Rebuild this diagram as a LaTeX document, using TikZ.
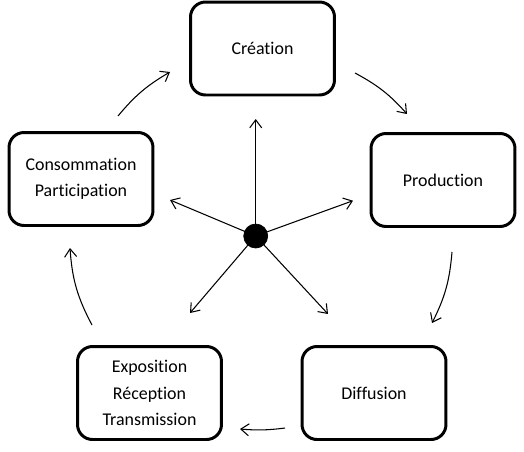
\documentclass[tikz,border=0pt]{standalone}
\usepackage{fontspec}
\setmainfont[Ligatures={NoCommon,NoContextual}]{Carlito}
\usetikzlibrary{arrows.meta}

\begin{document}
\begin{tikzpicture}[x=0.02cm,y=-0.02cm,
		box/.style={draw, line width=1.7pt, rounded corners=0.3cm, minimum width=2.88cm, minimum height=1.86cm, align=center, font=\fontsize{10.2}{15}\selectfont},
		tip/.style={-{Straight Barb[length=1.6mm,width=2.4mm]}, line width=0.6pt}]
		\useasboundingbox (0,0) rectangle (524,451);
		\node[box] (Cr) at (262.5,48.5) {Création};
		\node[box] (Pr) at (443,180) {Production};
		\node[box] (Di) at (374,393) {Diffusion};
		\node[box] (Ex) at (149.5,393) {Exposition\\Réception\\Transmission};
		\node[box] (Co) at (81,179) {Consommation\\Participation};
		\coordinate (O) at (255.7,236);
		\coordinate (Su) at (255.7,119);
		\coordinate (Sl) at (170,200);
		\coordinate (Sr) at (353,200.7);
		\coordinate (Sbl) at (190,313);
		\coordinate (Sbr) at (328,314);
		\coordinate (A1) at (355,73);
		\coordinate (A2) at (407,114);
		\coordinate (B1) at (452,252);
		\coordinate (B2) at (432,323);
		\coordinate (C1) at (285,428);
		\coordinate (C2) at (240,429);
		\coordinate (D1) at (92,325);
		\coordinate (D2) at (70,248);
		\coordinate (E1) at (118,116);
		\coordinate (E2) at (170,72);
		\draw[tip] (O) to (Su);
		\draw[tip] (O) to (Sl);
		\draw[tip] (O) to (Sr);
		\draw[tip] (O) to (Sbl);
		\draw[tip] (O) to (Sbr);
		\draw[fill=black] (O) circle (0.24cm);
		\draw[tip] (A1) to[bend left=10] (A2);
		\draw[tip] (B1) to[bend left=11] (B2);
		\draw[tip] (C1) to[bend left=6] (C2);
		\draw[tip] (D1) to[bend left=12] (D2);
		\draw[tip] (E1) to[bend left=10] (E2);
	\end{tikzpicture}
\end{document}
